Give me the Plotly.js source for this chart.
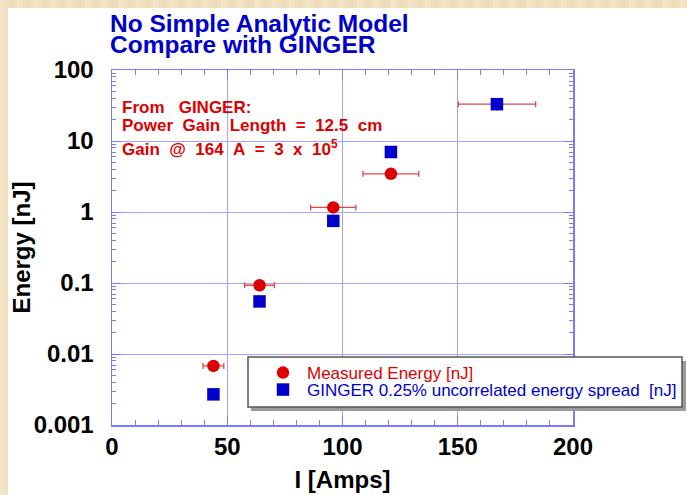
<!DOCTYPE html>
<html><head><meta charset="utf-8">
<script src="https://cdn.plot.ly/plotly-3.0.1.min.js"></script>
<style>
html,body{margin:0;padding:0;width:687px;height:495px;overflow:hidden;
  background:#f2e1bf;
  background-image:repeating-linear-gradient(90deg,rgba(255,255,255,0.18) 0px,rgba(255,255,255,0) 6px,rgba(200,170,120,0.12) 11px,rgba(255,255,255,0) 17px);}
#chart{position:absolute;left:8px;top:8px;width:720px;height:487px;background:#fff;}
</style></head><body><div id="chart"></div>
<script>
// ---- data ----
const currentAmps    = [44, 64, 96, 121, 167];
const currentErr     = [4.5, 6.5, 9.8, 12.1, 16.8];
const measuredEnergy = [0.0068, 0.093, 1.16, 3.45, 33];
const gingerEnergy   = [0.0027, 0.055, 0.75, 7.0, 33];
const xTickVals = [0, 50, 100, 150, 200];
const yTickVals = [0.001, 0.01, 0.1, 1, 10, 100];
const yTickText = ['0.001', '0.01', '0.1', '1', '10', '100'];
const seriesNames = ['Measured Energy [nJ]', 'GINGER 0.25% uncorrelated energy spread\u00a0\u00a0[nJ]'];
const titleLines = ['No Simple Analytic Model', 'Compare with GINGER'];
const noteLines = ['From\u00a0\u00a0\u00a0GINGER:',
  'Power\u00a0\u00a0Gain\u00a0\u00a0Length\u00a0\u00a0=\u00a0\u00a012.5\u00a0\u00a0cm',
  'Gain\u00a0\u00a0@\u00a0\u00a0164\u00a0\u00a0A\u00a0\u00a0=\u00a0\u00a03\u00a0\u00a0x\u00a0\u00a010<sup>5</sup>'];

const FONT = 'Liberation Sans, Arial, Helvetica, sans-serif';
const RED = '#dd0000', BLUE = '#0000cc';
const FRAME = '#7a7aff', GRID = '#a4a4ff';

const traces = [
  {
    x: currentAmps, y: measuredEnergy, type: 'scatter', mode: 'markers',
    name: seriesNames[0], legend: 'legend',
    marker: {symbol: 'circle', size: 12.5, color: RED},
    error_x: {type: 'data', array: currentErr, visible: true, color: '#e04848', thickness: 1.3, width: 3}
  },
  {
    x: currentAmps, y: gingerEnergy, type: 'scatter', mode: 'markers',
    name: seriesNames[1], legend: 'legend2',
    marker: {symbol: 'square', size: 12.5, color: BLUE}
  }
];

const px = v => (v - 112) / 461;      // page x -> paper x
const py = v => (425 - v) / 355;      // page y -> paper y

const layout = {
  width: 720, height: 487,
  margin: {l: 104, r: 155, t: 62, b: 70, pad: 0},
  paper_bgcolor: '#ffffff', plot_bgcolor: '#ffffff',
  font: {family: FONT, color: '#000'},
  title: {
    text: titleLines[0], xref: 'container', yref: 'container',
    x: 102 / 720, xanchor: 'left', y: 1 - 15 / 487, yanchor: 'middle',
    font: {family: FONT, size: 24.5, weight: 'bold', color: BLUE}
  },
  xaxis: {
    range: [0, 200], tickvals: xTickVals, ticks: 'inside', ticklen: 9, tickcolor: FRAME, tickwidth: 1,
    showline: true, linecolor: FRAME, linewidth: 1.5, mirror: 'ticks',
    showgrid: true, gridcolor: GRID, gridwidth: 1, zeroline: false,
    minor: {dtick: 10, ticks: 'inside', ticklen: 5, tickcolor: FRAME, showgrid: false},
    tickfont: {family: FONT, size: 24, weight: 'bold', color: '#000'},
    title: {text: 'I [Amps]', font: {family: FONT, size: 24, weight: 'bold', color: '#000'}, standoff: 12}
  },
  yaxis: {
    type: 'log', range: [-3, 2], tickvals: yTickVals, ticktext: yTickText,
    ticks: 'inside', ticklen: 9, tickcolor: FRAME, tickwidth: 1,
    showline: true, linecolor: FRAME, linewidth: 1.5, mirror: 'ticks',
    showgrid: true, gridcolor: GRID, gridwidth: 1, zeroline: false,
    minor: {dtick: 'D1', ticks: 'inside', ticklen: 4, tickcolor: FRAME, showgrid: false},
    ticklabelstandoff: 12,
    tickfont: {family: FONT, size: 24, weight: 'bold', color: '#000'},
    title: {text: 'Energy [nJ]', font: {family: FONT, size: 24, weight: 'bold', color: '#000'}, standoff: 8}
  },
  showlegend: true,
  legend: {
    x: px(259), xanchor: 'left', y: py(373), yanchor: 'middle',
    bgcolor: 'rgba(0,0,0,0)', borderwidth: 0, itemwidth: 38,
    font: {family: FONT, size: 17, color: RED}
  },
  legend2: {
    x: px(259), xanchor: 'left', y: py(390), yanchor: 'middle',
    bgcolor: 'rgba(0,0,0,0)', borderwidth: 0, itemwidth: 38,
    font: {family: FONT, size: 17, color: BLUE}
  },
  shapes: [
    {type: 'rect', xref: 'paper', yref: 'paper', layer: 'above',
     x0: px(251), x1: px(686), y0: py(411), y1: py(361),
     fillcolor: '#9a9a9a', line: {width: 0}},
    {type: 'rect', xref: 'paper', yref: 'paper', layer: 'above',
     x0: px(248), x1: px(682), y0: py(407), y1: py(357),
     fillcolor: '#ffffff', line: {color: '#555555', width: 1.5}}
  ],
  annotations: [
    {text: titleLines[1], xref: 'paper', yref: 'paper', x: px(108), y: py(44.5),
     xanchor: 'left', yanchor: 'middle', showarrow: false,
     font: {family: FONT, size: 24.5, weight: 'bold', color: BLUE}},
    {text: noteLines[0], xref: 'paper', yref: 'paper', x: px(120), y: py(107),
     xanchor: 'left', yanchor: 'middle', showarrow: false,
     font: {family: FONT, size: 17, weight: 'bold', color: RED}},
    {text: noteLines[1], xref: 'paper', yref: 'paper', x: px(120), y: py(125),
     xanchor: 'left', yanchor: 'middle', showarrow: false,
     font: {family: FONT, size: 17, weight: 'bold', color: RED}},
    {text: noteLines[2], xref: 'paper', yref: 'paper', x: px(120), y: py(148),
     xanchor: 'left', yanchor: 'middle', showarrow: false,
     font: {family: FONT, size: 17, weight: 'bold', color: RED}}
  ]
};

Plotly.newPlot('chart', traces, layout, {displayModeBar: false, staticPlot: true});
</script></body></html>
